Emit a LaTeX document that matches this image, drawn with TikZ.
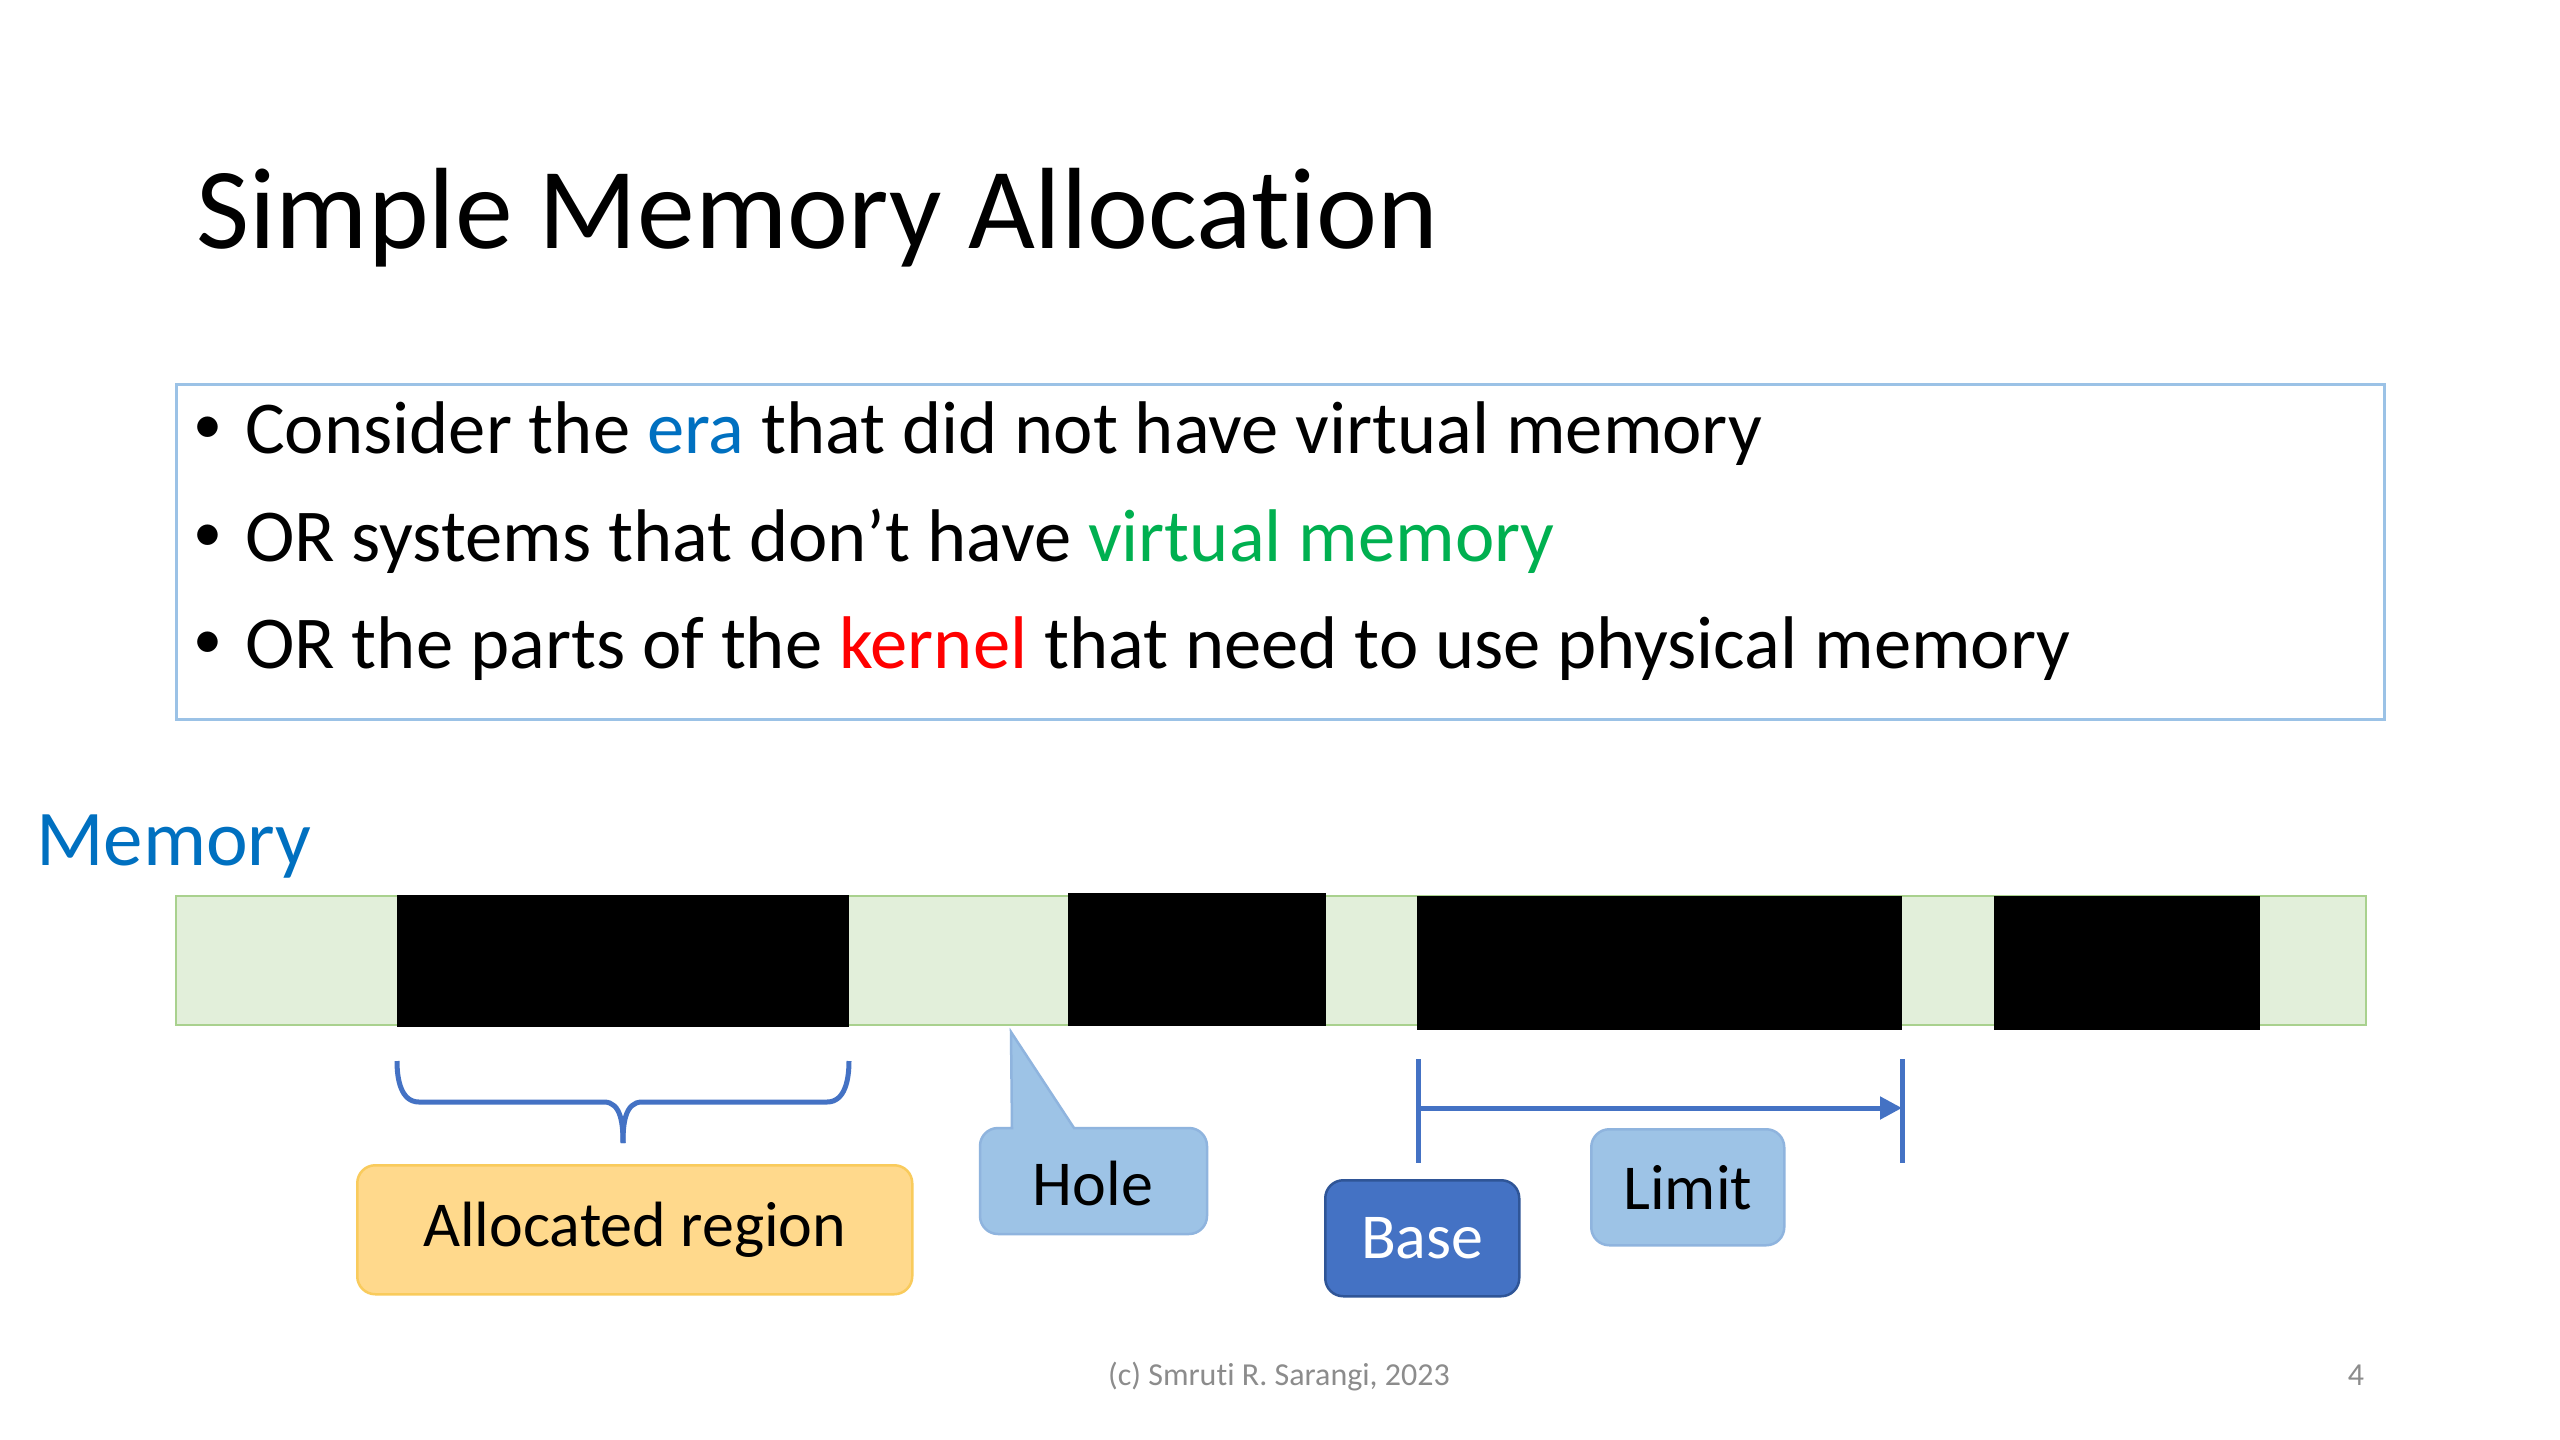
\documentclass[tikz,border=0pt]{standalone}
\usepackage{fontspec}
\setmainfont{Carlito}[Ligatures=NoCommon]
\usetikzlibrary{arrows.meta}
\definecolor{erablue}{HTML}{0070C0}
\definecolor{vmgreen}{HTML}{00B050}
\definecolor{kred}{HTML}{FF0000}
\definecolor{boxline}{HTML}{9BC2E6}
\definecolor{memfill}{HTML}{E2EFDA}
\definecolor{memline}{HTML}{A9D18E}
\definecolor{accent}{HTML}{4472C4}
\definecolor{accentdk}{HTML}{2F5597}
\definecolor{lightblue}{HTML}{9DC3E6}
\definecolor{lightblueln}{HTML}{8FB4DE}
\definecolor{allocfill}{HTML}{FFD98C}
\definecolor{allocline}{HTML}{F9CB5C}
\definecolor{footgray}{HTML}{8C8C8C}
\tikzset{
  bulletline/.style={anchor=base west, inner sep=0pt, font=\fontsize{74.6}{90}\selectfont},
  bulletdot/.style={inner sep=0pt, font=\fontsize{58}{70}\selectfont},
  blockbox/.style={fill=black, draw=none, inner sep=0pt, anchor=north west},
  labelbox/.style={rounded corners=18pt, line width=2.5pt, inner sep=0pt, anchor=north west},
  blueline/.style={draw=accent, line width=5pt},
  labeltext/.style={font=\fontsize{64}{74}\selectfont},
}
\begin{document}
\begin{tikzpicture}[x=1pt,y=-1pt]
\useasboundingbox[fill=white] (0,0) rectangle (2560,1440);
% title
\node[anchor=base west, inner sep=0pt, font=\fontsize{115.6}{136}\selectfont] (title) at (196,248) {Simple Memory Allocation};
% bullet box
\draw[boxline, line width=3pt] (176,384) rectangle (2384,719);
\node[bulletdot] (b1) at (208,430) {•};
\node[bulletline] (l1) at (245,453) {Consider the \textcolor{erablue}{era} that did not have virtual memory};
\node[bulletdot] (b2) at (208,538) {•};
\node[bulletline] (l2) at (245,561) {OR systems that don’t have \textcolor{vmgreen}{virtual memory}};
\node[bulletdot] (b3) at (208,645) {•};
\node[bulletline] (l3) at (245,668) {OR the parts of the \textcolor{kred}{kernel} that need to use physical memory};
% memory label
\node[anchor=base west, inner sep=0pt, text=erablue, font=\fontsize{79}{92}\selectfont] (memlabel) at (36,865) {Memory};
% memory bar
\draw[fill=memfill, draw=memline, line width=2.5pt] (176,896) rectangle (2366,1025);
\coordinate (bar) at (1271,960);
\node[blockbox, minimum width=452pt, minimum height=132pt] (blk1) at (397,895) {};
\node[blockbox, minimum width=258pt, minimum height=133pt] (blk2) at (1068,893) {};
\node[blockbox, minimum width=485pt, minimum height=134pt] (blk3) at (1417,896) {};
\node[blockbox, minimum width=266pt, minimum height=134pt] (blk4) at (1994,896) {};
% brace
\coordinate (brL) at (397,1061);
\coordinate (brR) at (849,1061);
\coordinate (brT) at (623,1143);
\draw[blueline] (brL) to[out=-90,in=180] (419,1102) -- (604,1102) to[out=0,in=90] (brT);
\draw[blueline] (brR) to[out=-90,in=0] (827,1102) -- (642,1102) to[out=180,in=90] (brT);
% allocated region
\node[labelbox, labeltext, fill=allocfill, draw=allocline, minimum width=555pt, minimum height=129pt] (alloc) at (356,1164) {Allocated region};
% hole callout
\coordinate (holetip) at (1011,1032);
\draw[fill=lightblue, draw=lightblueln, line width=2.5pt, rounded corners=18pt]
  (1074,1128) -- (1207,1128) -- (1207,1234) -- (980,1234) -- (980,1128) [sharp corners] -- (1012,1128) -- (holetip) -- (1074,1128) -- cycle;
\node[inner sep=0pt, labeltext] (hole) at (1093,1183) {Hole};
% base / limit dimension
\coordinate (dimL1) at (1418,1059);
\coordinate (dimL2) at (1418,1163);
\coordinate (dimR1) at (1902,1059);
\coordinate (dimR2) at (1902,1163);
\coordinate (dimA) at (1418,1108);
\coordinate (dimB) at (1902,1108);
\draw[blueline] (dimL1) -- (dimL2);
\draw[blueline] (dimR1) -- (dimR2);
\draw[blueline, -{Triangle[length=22pt,width=22pt]}] (dimA) -- (dimB);
\node[labelbox, labeltext, fill=accent, draw=accentdk, text=white, minimum width=194pt, minimum height=116pt] (base) at (1324,1179) {Base};
\node[labelbox, labeltext, fill=lightblue, draw=lightblueln, minimum width=193pt, minimum height=116pt] (limit) at (1590,1128) {Limit};
% footer
\node[anchor=base, inner sep=0pt, text=footgray, font=\fontsize{32}{38}\selectfont] (foot) at (1279,1385) {(c) Smruti R. Sarangi, 2023};
\node[anchor=base, inner sep=0pt, text=footgray, font=\fontsize{32}{38}\selectfont] (page) at (2356,1385) {4};
\end{tikzpicture}
\end{document}
